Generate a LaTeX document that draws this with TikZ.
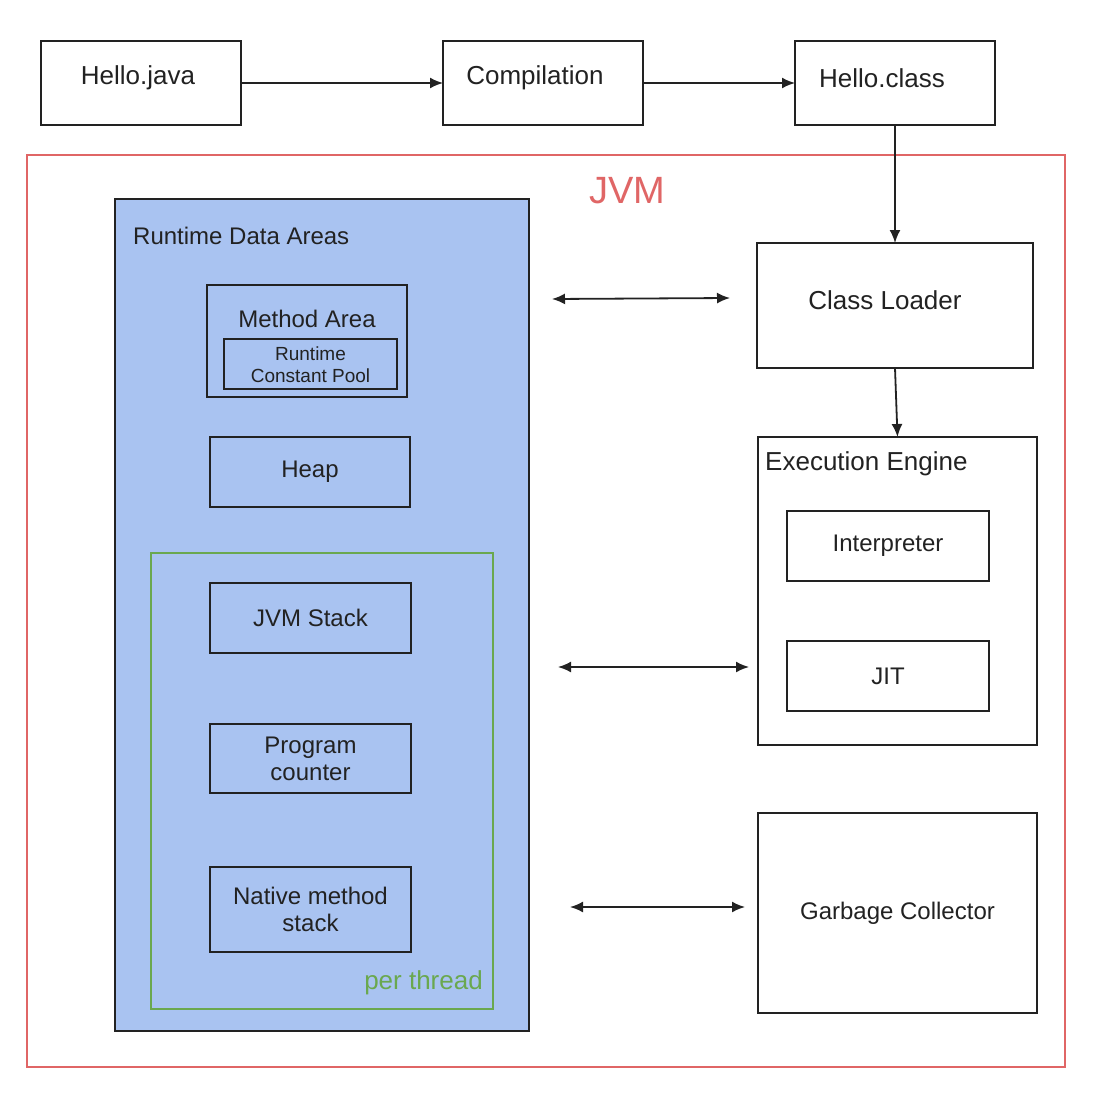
\documentclass[tikz,border=0pt]{standalone}
\usepackage{fontspec}
\setmainfont{Liberation Sans}
\usetikzlibrary{arrows.meta}
\definecolor{jvmred}{HTML}{E06666}
\definecolor{rdablue}{HTML}{A9C3F1}
\definecolor{thgreen}{HTML}{6AA84F}
\definecolor{ink}{HTML}{222222}
\begin{document}
\begin{tikzpicture}[x=1pt,y=-1pt,
  box/.style={draw=ink, line width=1.9pt, inner sep=0pt, outer sep=0pt},
  lbl/.style={inner sep=0pt, text=ink, align=center, font=\fontsize{24}{27}\selectfont},
  big/.style={font=\fontsize{26}{29}\selectfont},
  small/.style={font=\fontsize{19}{22}\selectfont},
  arr/.style={draw=ink, line width=1.8pt, -{Latex[length=13pt,width=11pt]}},
  darr/.style={draw=ink, line width=1.8pt, {Latex[length=13pt,width=11pt]}-{Latex[length=13pt,width=11pt]}}
]
\useasboundingbox (0,0) rectangle (1092,1108);
\fill[white] (0,0) rectangle (1092,1108);

% top row
\node[box, minimum width=200pt, minimum height=84pt] (hj) at (141,83) {};
\node[box, minimum width=200pt, minimum height=84pt] (comp) at (543,83) {};
\node[box, minimum width=200pt, minimum height=84pt] (hc) at (895,83) {};
\node[lbl, big] (hjt) at (138,78) {Hello.java};
\node[lbl, big] (compt) at (535,78) {Compilation};
\node[lbl, big] (hct) at (882,78) {Hello.class};

% JVM frame
\node[draw=jvmred, line width=1.5pt, inner sep=0pt, minimum width=1038pt, minimum height=912pt] (jvm) at (546,611) {};
\node[inner sep=0pt, text=jvmred, font=\fontsize{38}{40}\selectfont] (jvmt) at (627,191) {JVM};

% runtime data areas
\node[box, fill=rdablue, minimum width=414pt, minimum height=832pt] (rda) at (322,615) {};
\node[lbl, anchor=west] (rdat) at (133,236) {Runtime Data Areas};
\node[box, minimum width=200pt, minimum height=112pt] (ma) at (307,341) {};
\node[lbl] (mat) at (307,319) {Method Area};
\node[box, minimum width=173pt, minimum height=50pt] (rcp) at (310.5,364) {};
\node[lbl, small] (rcpt) at (310.5,365) {Runtime\\Constant Pool};
\node[box, minimum width=200pt, minimum height=70pt, lbl] (heap) at (310,472) {Heap};

\node[draw=thgreen, line width=1.6pt, inner sep=0pt, minimum width=342pt, minimum height=456pt] (pt) at (322,781) {};
\node[inner sep=0pt, text=thgreen, anchor=east, font=\fontsize{26}{28}\selectfont] (ptt) at (483,983) {per thread};
\node[box, minimum width=201pt, minimum height=70pt, lbl] (stack) at (310.5,618) {JVM Stack};
\node[box, minimum width=201pt, minimum height=69pt, lbl] (pc) at (310.5,758.5) {Program\\counter};
\node[box, minimum width=201pt, minimum height=85pt, lbl] (nms) at (310.5,909.5) {Native method\\stack};

% right column
\node[box, minimum width=276pt, minimum height=125pt] (cl) at (895,305.5) {};
\node[lbl, big] (clt) at (885,300) {Class Loader};
\node[box, minimum width=279pt, minimum height=308pt] (ee) at (897.5,591) {};
\node[lbl, big, anchor=west] (eet) at (765,464) {Execution Engine};
\node[box, minimum width=202pt, minimum height=70pt, lbl] (interp) at (888,546) {Interpreter};
\node[box, minimum width=202pt, minimum height=70pt, lbl] (jit) at (888,676) {JIT};
\node[box, minimum width=279pt, minimum height=200pt, lbl] (gc) at (897.5,913) {Garbage Collector};

% connectors
\draw[arr] (hj.east) -- (comp.west);
\draw[arr] (comp.east) -- (hc.west);
\draw[arr] (hc.south) -- (cl.north);
\draw[arr] (cl.south) -- (ee.north);

\coordinate (a1l) at (552,299);
\coordinate (a1r) at (730,298);
\coordinate (a2l) at (558,667);
\coordinate (a2r) at (749,667);
\coordinate (a3l) at (570,907);
\coordinate (a3r) at (745,907);
\draw[darr] (a1l) -- (a1r);
\draw[darr] (a2l) -- (a2r);
\draw[darr] (a3l) -- (a3r);
\end{tikzpicture}
\end{document}
